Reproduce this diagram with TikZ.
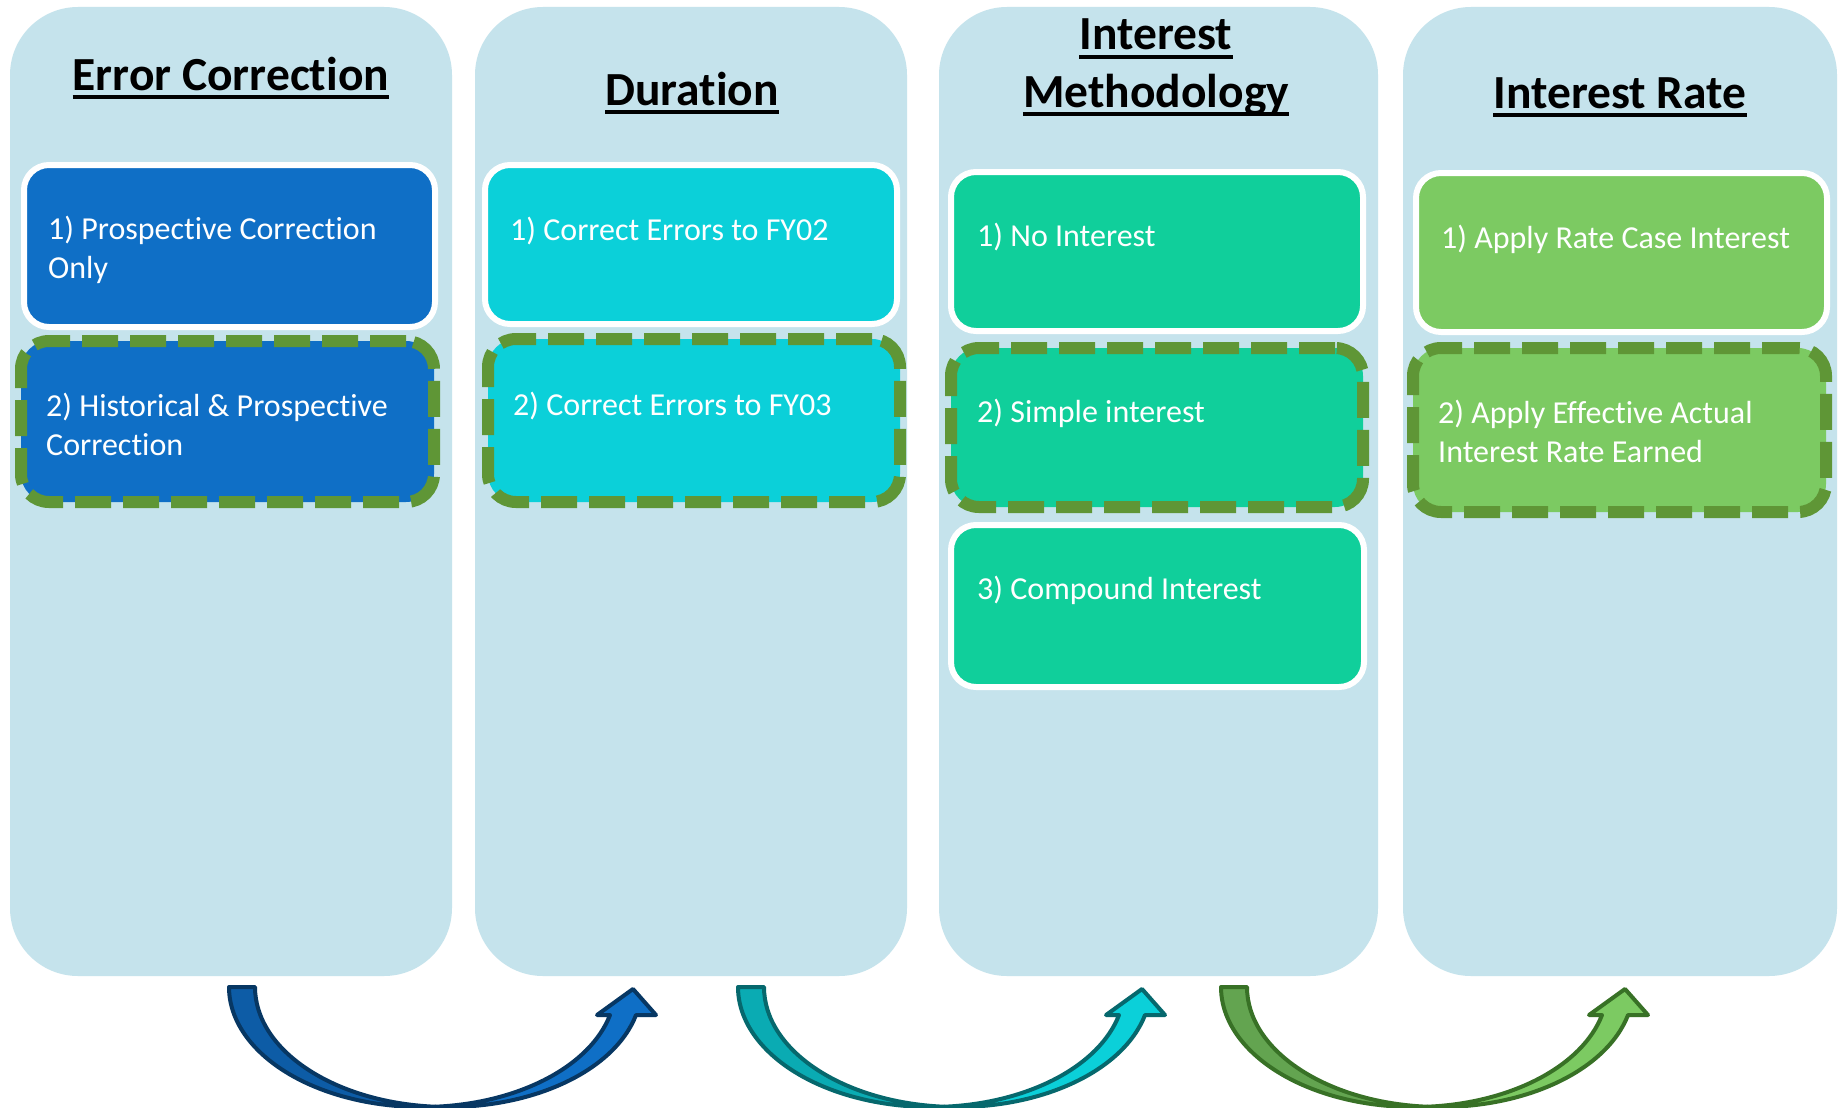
\documentclass[tikz,border=0pt]{standalone}
\usepackage{fontspec}
\setmainfont{Carlito}[Ligatures=NoCommon]
\definecolor{colbg}{HTML}{C5E3EC}
\definecolor{cA}{HTML}{0F6FC6}
\definecolor{cB}{HTML}{0BD0D9}
\definecolor{cC}{HTML}{10CF9B}
\definecolor{cD}{HTML}{7CCA62}
\definecolor{dashgreen}{HTML}{5F9636}
\definecolor{olA}{HTML}{073763}
\definecolor{bkA}{HTML}{0D5CA6}
\definecolor{olB}{HTML}{06686D}
\definecolor{bkB}{HTML}{0AABB3}
\definecolor{olC}{HTML}{387126}
\definecolor{bkC}{HTML}{63A450}
\tikzset{
  colbox/.style={fill=colbg, draw=none, rounded corners=68pt, inner sep=0pt},
  solidbox/.style={draw=white, line width=6pt, rounded corners=25pt, inner sep=0pt},
  dashbox/.style={draw=dashgreen, line width=12pt, dash pattern=on 36pt off 12pt, rounded corners=28pt, inner sep=0pt},
  head/.style={font=\bfseries\fontsize{47.5}{57}\selectfont, inner sep=0pt, anchor=base},
  txt/.style={font=\fontsize{32}{39}\selectfont, text=white, inner sep=0pt, anchor=base west, align=left},
  uline/.style={line width=3.5pt, draw=black},
}
\newcommand\CurvArr[4]{%
\begin{scope}[xshift=#1pt]
 \path[draw=#2, fill=#3, line width=4pt, line join=round]
   (229,987) arc[start angle=180,end angle=86.14,x radius=193.2,y radius=120]
   arc[start angle=93.86,end angle=180,x radius=193.2,y radius=120] -- cycle;
 \path[draw=#2, fill=#4, line width=4pt, line join=round]
   (610,1015) arc[start angle=13.5,end angle=86.14,x radius=193.2,y radius=120]
   arc[start angle=93.86,end angle=13.5,x radius=193.2,y radius=120]
   -- (656,1015) -- (633,989) -- (597,1015) -- cycle;
\end{scope}}
\begin{document}
\begin{tikzpicture}[x=1pt, y=-1pt]
\useasboundingbox (0,0) rectangle (1844,1108);
\fill[white] (0,0) rectangle (1844,1108);
% columns
\node[colbox, minimum width=442pt, minimum height=969pt] (c1) at (231,491.5) {};
\node[colbox, minimum width=432pt, minimum height=969pt] (c2) at (691,491.5) {};
\node[colbox, minimum width=439pt, minimum height=969pt] (c3) at (1158.5,491.5) {};
\node[colbox, minimum width=434pt, minimum height=969pt] (c4) at (1620,491.5) {};
% headings
\node[head] (h1) at (231,90) {Error Correction};
\node[head] (h2) at (692,105) {Duration};
\node[head] (h3a) at (1156,50) {Interest\ };
\node[head] (h3b) at (1156,107) {Methodology};
\node[head] (h4) at (1620,108) {Interest Rate};
\foreach \h in {h1,h2,h3a,h3b,h4}
  \draw[uline] ([yshift=-7pt]\h.base west) -- ([yshift=-7pt]\h.base east);
% boxes
\node[solidbox, fill=cA, minimum width=411pt, minimum height=162pt] (b11) at (229.5,246) {};
\node[dashbox, fill=cA, minimum width=413pt, minimum height=161pt] (b12) at (227.5,421.5) {};
\node[solidbox, fill=cB, minimum width=412pt, minimum height=159pt] (b21) at (691,244.5) {};
\node[dashbox, fill=cB, minimum width=412pt, minimum height=163pt] (b22) at (694,420.5) {};
\node[solidbox, fill=cC, minimum width=412pt, minimum height=159pt] (b31) at (1157,251.5) {};
\node[dashbox, fill=cC, minimum width=412pt, minimum height=159pt] (b32) at (1157,427.5) {};
\node[solidbox, fill=cC, minimum width=413pt, minimum height=162pt] (b33) at (1157.5,606) {};
\node[solidbox, fill=cD, minimum width=411pt, minimum height=159pt] (b41) at (1621.5,252.5) {};
\node[dashbox, fill=cD, minimum width=413pt, minimum height=164pt] (b42) at (1619.5,430) {};
% texts (multi-line nodes are placed by the baseline of their last line)
\node[txt] (t11) at (48,278) {1) Prospective Correction\\Only};
\node[txt] (t12) at (46,455) {2) Historical \& Prospective\\Correction};
\node[txt] (t21) at (510,240) {1) Correct Errors to FY02};
\node[txt] (t22) at (513,415) {2) Correct Errors to FY03};
\node[txt] (t31) at (977,246) {1) No Interest};
\node[txt] (t32) at (977,422) {2) Simple interest};
\node[txt] (t33) at (977,599) {3) Compound Interest};
\node[txt] (t41) at (1441,248) {1) Apply Rate Case Interest};
\node[txt] (t42) at (1438,462) {2) Apply Effective Actual\\Interest Rate Earned};
% curved arrows
\CurvArr{0}{olA}{bkA}{cA}
\CurvArr{509}{olB}{bkB}{cB}
\CurvArr{992}{olC}{bkC}{cD}
\end{tikzpicture}
\end{document}
